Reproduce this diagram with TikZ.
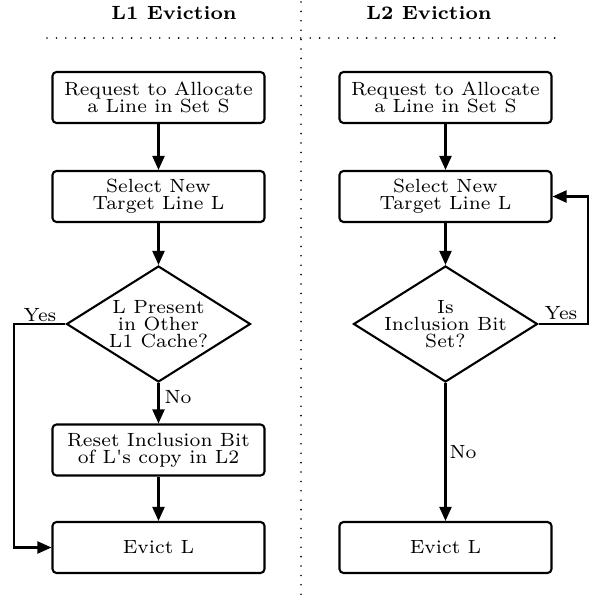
\documentclass[tikz,border=0pt]{standalone}
\usetikzlibrary{shapes.geometric,arrows.meta}
\usepackage{graphicx}
% small optical size, enlarged: rows are stacked with a fixed baseline distance
\newcommand\sctext[2][]{\scalebox{2.73}{\fontsize{7}{6.3}\selectfont#1\lineskiplimit=-20pt\vbox{\halign{\hfil##\hfil\cr#2\crcr}}}}
\begin{document}
\begin{tikzpicture}[x=1pt,y=-1pt,
  stepbox/.style={draw,line width=2.1pt,rounded corners=4pt,minimum width=212pt,minimum height=51pt,inner sep=0pt},
  decision/.style={draw,line width=2.1pt,shape=diamond,aspect=1.586,minimum width=184pt,minimum height=116pt,inner sep=0pt},
  flow/.style={line width=2.1pt,-{Triangle[length=14pt,width=12pt]}},
  sep/.style={line width=1.8pt,line cap=round,dash pattern=on 0pt off 9.4pt},
  lbl/.style={inner sep=0pt}]
\useasboundingbox (0,0) rectangle (591,602);

% column separators and headers
\draw[sep] (301,2) -- (301,600);
\draw[sep] (47,38) -- (562,38);
\node[lbl] (h1) at (174,13) {\sctext[\bfseries]{L1 Eviction}};
\node[lbl] (h2) at (429,13) {\sctext[\bfseries]{L2 Eviction}};

% L1 eviction flow
\node[stepbox] (a1) at (158.5,97.5) {\sctext{Request to Allocate\cr a Line in Set S}};
\node[stepbox] (b1) at (158.5,196.5) {\sctext{Select New\cr Target Line L}};
\node[decision,label={center:{\sctext{L Present\cr in Other\cr L1 Cache?}}}] (c1) at (158.5,324) {};
\node[stepbox] (d1) at (158.5,450) {\sctext{Reset Inclusion Bit\cr of L\textquotesingle s copy in L2}};
\node[stepbox] (e1) at (158.5,547.5) {\sctext{Evict L}};
\coordinate (y1a) at (14,324);
\coordinate (y1b) at (14,547.5);

\draw[flow] (a1) -- (b1);
\draw[flow] (b1) -- (c1);
\draw[flow] (c1) -- (d1);
\draw[flow] (d1) -- (e1);
\draw[flow] (c1.west) -- (y1a) -- (y1b) -- (e1.west);
\node[lbl] (yes1) at (40,315) {\sctext{Yes}};
\node[lbl] (no1) at (178,397) {\sctext{No}};

% L2 eviction flow
\node[stepbox] (a2) at (445.5,97.5) {\sctext{Request to Allocate\cr a Line in Set S}};
\node[stepbox] (b2) at (445.5,196.5) {\sctext{Select New\cr Target Line L}};
\node[decision,label={center:{\sctext{Is\cr Inclusion Bit\cr Set?}}}] (c2) at (445.5,324) {};
\node[stepbox] (e2) at (445.5,547.5) {\sctext{Evict L}};
\coordinate (y2a) at (588,324);
\coordinate (y2b) at (588,196.5);

\draw[flow] (a2) -- (b2);
\draw[flow] (b2) -- (c2);
\draw[flow] (c2) -- (e2);
\draw[flow] (c2.east) -- (y2a) -- (y2b) -- (b2.east);
\node[lbl] (yes2) at (561,313) {\sctext{Yes}};
\node[lbl] (no2) at (463,452) {\sctext{No}};
\end{tikzpicture}
\end{document}
